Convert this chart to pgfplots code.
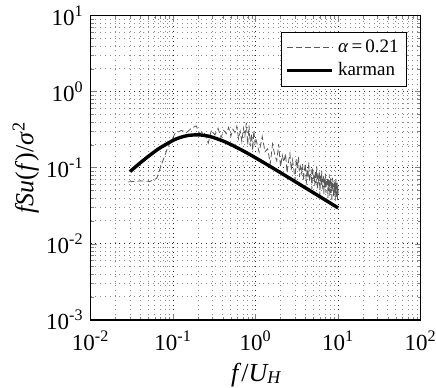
\documentclass[border=0pt]{standalone}
\usepackage{fontspec}
\setmainfont{Liberation Serif}
\usepackage{pgfplots}
\pgfplotsset{compat=1.18}
\begin{document}
\begin{tikzpicture}
\begin{loglogaxis}[
  scale only axis, width=165pt, height=152pt,
  xmin=0.01, xmax=100, ymin=0.001, ymax=10,
  xtick={0.01,0.1,1,10,100},
  xticklabels={10\textsuperscript{-2},10\textsuperscript{-1},10\textsuperscript{0},10\textsuperscript{1},10\textsuperscript{2}},
  ytick={0.001,0.01,0.1,1,10},
  yticklabels={10\textsuperscript{-3},10\textsuperscript{-2},10\textsuperscript{-1},10\textsuperscript{0},10\textsuperscript{1}},
  tick label style={font=\fontsize{11.5}{13}\selectfont},
  xticklabel style={yshift=-2.2pt},
  label style={font=\fontsize{13}{15}\selectfont},
  xlabel style={at={(axis description cs:0.5,-0.182)}, anchor=center},
  ylabel style={at={(axis description cs:-0.197,0.5)}, anchor=center},
  grid=both,
  major grid style={dotted, black!85, line width=0.45pt},
  minor grid style={dotted, black!45, line width=0.4pt},
  axis line style={line width=0.8pt},
  tick align=inside,
  major tick length=3pt, minor tick length=1.5pt,
  xlabel={\textit{f}/\textit{U\raisebox{-0.15ex}{\fontsize{9}{10}\selectfont H}}},
  ylabel={\textit{fSu}(\textit{f})/\textit{σ}\textsuperscript{2}},
  legend style={at={(rel axis cs:0.958,0.947)}, anchor=north east, draw=black, line width=0.6pt,
    font=\fontsize{9.5}{11}\selectfont, inner sep=1.8pt, row sep=-0.5pt},
  legend cell align=left,
  legend image code/.code={\draw[#1] (0cm,0cm) -- (0.8cm,0cm);},
]
\addplot[black!65, line width=0.4pt, dash pattern=on 3pt off 1.5pt] coordinates {
(0.0286,0.065) (0.040,0.067) (0.052,0.066) (0.063,0.072) (0.073,0.114) (0.087,0.19)
(0.105,0.28) (0.126,0.31) (0.145,0.29) (0.166,0.33) (0.19,0.355) (0.21,0.28)
(0.235,0.30) (0.266,0.21) (0.29,0.31) (0.32,0.27) (0.35,0.33) (0.38,0.25)
(0.41,0.31) (0.44,0.28) (0.47,0.34) (0.50,0.26) (0.53,0.32) (0.56,0.29)
(0.59,0.35) (0.62,0.24) (0.65,0.30) (0.68,0.22) (0.71,0.33) (0.74,0.26)
(0.77,0.39) (0.80,0.20) (0.83,0.36) (0.86,0.19) (0.89,0.28) (0.92,0.17)
(0.95,0.31) (0.98,0.21)
(1.0,0.244) (1.1,0.160) (1.2,0.257) (1.3,0.162) (1.4,0.178) (1.5,0.111)
(1.6,0.204) (1.7,0.149) (1.8,0.123) (1.9,0.203) (2.0,0.103) (2.1,0.146)
(2.2,0.119) (2.3,0.154) (2.4,0.0858) (2.5,0.120) (2.6,0.154) (2.7,0.0929)
(2.8,0.126) (2.9,0.0948) (3.0,0.0687) (3.1,0.130) (3.2,0.0974) (3.3,0.139)
(3.4,0.0760) (3.5,0.103) (3.6,0.0860) (3.7,0.112) (3.8,0.0675) (3.9,0.0940)
(4.0,0.113) (4.1,0.0601) (4.2,0.0971) (4.3,0.0730) (4.4,0.117) (4.5,0.0653)
(4.6,0.0808) (4.7,0.0951) (4.8,0.0522) (4.9,0.102) (5.0,0.0708) (5.1,0.0831)
(5.2,0.0576) (5.3,0.0918) (5.4,0.0626) (5.5,0.106) (5.6,0.0516) (5.7,0.0748)
(5.8,0.0666) (5.9,0.0904) (6.0,0.0434) (6.1,0.0789) (6.2,0.0607) (6.3,0.0915)
(6.4,0.0519) (6.5,0.0671) (6.6,0.0807) (6.7,0.0449) (6.8,0.0714) (6.9,0.0550)
(7.0,0.0837) (7.1,0.0463) (7.2,0.0664) (7.3,0.0590) (7.4,0.0735) (7.5,0.0402)
(7.6,0.0700) (7.7,0.0492) (7.8,0.0818) (7.9,0.0423) (8.0,0.0579) (8.1,0.0733)
(8.2,0.0462) (8.3,0.0647) (8.4,0.0358) (8.5,0.0733) (8.6,0.0516) (8.7,0.0607)
(8.8,0.0411) (8.9,0.0681) (9.0,0.0471) (9.1,0.0636) (9.2,0.0364) (9.3,0.0557)
(9.4,0.0707) (9.5,0.0416) (9.6,0.0507) (9.7,0.0636) (9.8,0.0374) (9.9,0.0570)
(10.0,0.0456)
};
\addlegendentry{\textit{α}\,=\,0.21}
\addplot[black, line width=1.7pt, smooth] coordinates {
(0.03,0.0891) (0.04,0.1162) (0.05,0.1411) (0.06,0.1637) (0.07,0.1838)
(0.1,0.2294) (0.12,0.2487) (0.15,0.2652) (0.2,0.2710) (0.25,0.2636)
(0.3,0.2514) (0.4,0.2249) (0.5,0.2018) (0.7,0.1673) (1,0.1346)
(1.5,0.1038) (2,0.0860) (3,0.0658) (5,0.0469) (7,0.0375) (10,0.02956)
};
\addlegendentry{karman}
\end{loglogaxis}
\pgfresetboundingbox
\path[use as bounding box] ([xshift=-45.35pt,yshift=-34pt]current axis.south west) rectangle ([xshift=7.65pt,yshift=7.85pt]current axis.north east);
\end{tikzpicture}
\end{document}
